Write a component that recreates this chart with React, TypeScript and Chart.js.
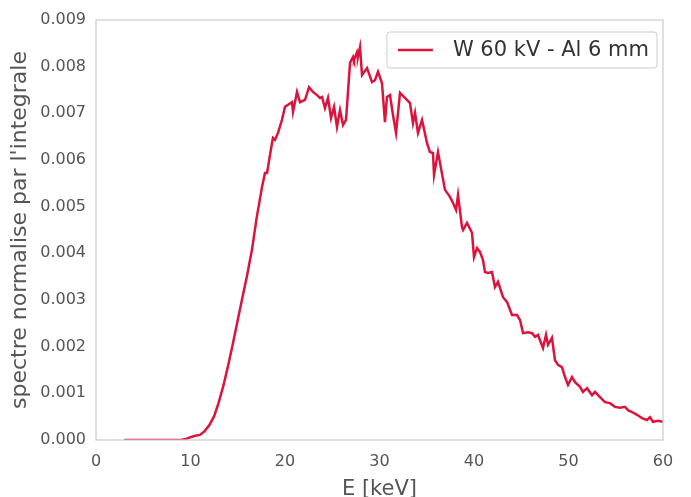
import React, { useEffect, useRef } from "react";
import { Chart, registerables } from "chart.js";

Chart.register(...registerables);

const energies = [
  3, 4, 5, 6, 7, 8, 9, 9.5, 10, 10.5, 11, 11.5, 12, 12.5, 13, 13.5, 14, 14.5, 15, 15.5,
  16, 16.5, 17, 17.57, 17.88, 18.1, 18.62, 18.73, 18.94, 19.26, 19.68, 20.0, 20.74,
  20.85, 21.27, 21.59, 22.12, 22.54, 22.96, 23.39, 23.7, 23.92, 24.23, 24.55, 24.87,
  25.19, 25.5, 25.82, 26.14, 26.46, 26.88, 27.2, 27.3, 27.62, 27.72, 27.94, 28.15,
  28.68, 29.21, 29.52, 29.84, 30.26, 30.58, 30.79, 31.11, 31.43, 31.75, 32.17, 32.7,
  33.23, 33.54, 33.76, 34.07, 34.5, 35.03, 35.34, 35.66, 35.77, 36.19, 36.93, 37.46,
  37.78, 38.1, 38.31, 38.73, 38.84, 39.26, 39.79, 40.0, 40.32, 40.63, 40.95, 41.16,
  41.48, 41.9, 42.22, 42.54, 43.07, 43.49, 44.02, 44.55, 44.87, 45.19, 45.71, 46.14,
  46.46, 46.77, 47.3, 47.62, 47.83, 48.25, 48.57, 48.89, 49.31, 49.63, 49.95, 50.37,
  50.69, 51.22, 51.53, 51.96, 52.49, 52.8, 53.33, 53.86, 54.39, 54.92, 55.45, 55.98,
  56.3, 56.72, 57.25, 57.78, 58.31, 58.62, 58.94, 59.47, 60.0,
];

const spectrum = [
  0, 0, 0, 0, 0, 0, 0, 0.00002, 0.00006, 0.00009, 0.00011, 0.00019, 0.00032, 0.00051,
  0.00081, 0.00118, 0.00161, 0.00208, 0.00257, 0.00306, 0.00354, 0.00407, 0.00476,
  0.00542, 0.00572, 0.00572, 0.00636, 0.00647, 0.00643, 0.00658, 0.00686, 0.00714,
  0.00724, 0.00703, 0.00746, 0.00724, 0.00729, 0.00756, 0.00746, 0.00739, 0.00733,
  0.00735, 0.00711, 0.00733, 0.0069, 0.00714, 0.00671, 0.00707, 0.00675, 0.00686,
  0.00808, 0.00821, 0.00814, 0.00831, 0.00821, 0.00842, 0.00782, 0.00797, 0.00767,
  0.00771, 0.00789, 0.00765, 0.00681, 0.00735, 0.00739, 0.00696, 0.00658, 0.00744,
  0.00733, 0.00722, 0.00679, 0.00701, 0.00658, 0.00686, 0.00636, 0.00617, 0.00615,
  0.00568, 0.00617, 0.00536, 0.00521, 0.00508, 0.00493, 0.00525, 0.00456, 0.0045,
  0.00465, 0.00444, 0.00392, 0.00411, 0.00403, 0.00386, 0.0036, 0.00358, 0.0036,
  0.00328, 0.00339, 0.00306, 0.00296, 0.00268, 0.00268, 0.00257, 0.00229, 0.00231,
  0.00229, 0.00221, 0.00225, 0.00197, 0.00225, 0.00204, 0.00219, 0.00171, 0.00161,
  0.00156, 0.00135, 0.00118, 0.00135, 0.00124, 0.00114, 0.00103, 0.00111, 0.00096,
  0.00103, 0.00092, 0.00081, 0.00079, 0.00071, 0.00069, 0.00071, 0.00064, 0.0006,
  0.00054, 0.00047, 0.00043, 0.00049, 0.00039, 0.00041, 0.00039,
];

const seriesLabel = "W 60 kV - Al 6 mm";
const xTitle = "E [keV]";
const yTitle = "spectre normalise par l'integrale";
const lineColor = "#dc143c";
const FONT = "'DejaVu Sans', sans-serif";

const framePlugin = {
  id: "frameAndLegend",
  afterDraw(chart: any) {
    const { ctx, chartArea } = chart;
    ctx.save();
    ctx.strokeStyle = "#cccccc";
    ctx.lineWidth = 1.25;
    ctx.strokeRect(chartArea.left, chartArea.top, chartArea.right - chartArea.left, chartArea.bottom - chartArea.top);

    // legend box
    const ds = chart.data.datasets[0];
    ctx.font = `21px ${FONT}`;
    const tw = ctx.measureText(ds.label).width;
    const boxRight = chartArea.right - 6;
    const boxTop = chartArea.top + 12;
    const boxH = 36;
    const boxW = 66 + tw + 8;
    const boxLeft = boxRight - boxW;
    ctx.fillStyle = "rgba(255,255,255,0.85)";
    ctx.strokeStyle = "#cccccc";
    ctx.lineWidth = 1;
    ctx.beginPath();
    const r = 3;
    ctx.moveTo(boxLeft + r, boxTop);
    ctx.lineTo(boxRight - r, boxTop);
    ctx.arcTo(boxRight, boxTop, boxRight, boxTop + r, r);
    ctx.lineTo(boxRight, boxTop + boxH - r);
    ctx.arcTo(boxRight, boxTop + boxH, boxRight - r, boxTop + boxH, r);
    ctx.lineTo(boxLeft + r, boxTop + boxH);
    ctx.arcTo(boxLeft, boxTop + boxH, boxLeft, boxTop + boxH - r, r);
    ctx.lineTo(boxLeft, boxTop + r);
    ctx.arcTo(boxLeft, boxTop, boxLeft + r, boxTop, r);
    ctx.closePath();
    ctx.fill();
    ctx.stroke();

    const cy = boxTop + boxH / 2;
    ctx.strokeStyle = ds.borderColor;
    ctx.lineWidth = 2.5;
    ctx.beginPath();
    ctx.moveTo(boxLeft + 11, cy);
    ctx.lineTo(boxLeft + 46, cy);
    ctx.stroke();

    ctx.fillStyle = "#333333";
    ctx.textBaseline = "middle";
    ctx.textAlign = "left";
    ctx.fillText(ds.label, boxLeft + 66, cy + 1);
    ctx.restore();
  },
};

export default function App() {
  const canvasRef = useRef<HTMLCanvasElement | null>(null);

  useEffect(() => {
    const canvas = canvasRef.current;
    if (!canvas) return;
    const points = energies.map((e, i) => ({ x: e, y: spectrum[i] }));
    const chart = new Chart(canvas, {
      type: "scatter",
      data: {
        datasets: [
          {
            label: seriesLabel,
            data: points,
            showLine: true,
            borderColor: lineColor,
            backgroundColor: lineColor,
            borderWidth: 2.5,
            pointRadius: 0,
            tension: 0,
          },
        ],
      },
      options: {
        animation: false,
        responsive: false,
        devicePixelRatio: 1,
        layout: { padding: { left: 0, right: 28, top: 20, bottom: 0 } },
        plugins: {
          legend: { display: false },
          tooltip: { enabled: false },
        },
        scales: {
          x: {
            type: "linear",
            min: 0,
            max: 60,
            grid: { display: false, drawTicks: false },
            border: { display: false },
            ticks: {
              stepSize: 10,
              color: "#555555",
              font: { family: FONT, size: 16 },
              padding: 12,
            },
            title: {
              display: true,
              text: xTitle,
              color: "#555555",
              font: { family: FONT, size: 21 },
              padding: { top: 0, bottom: -5 },
            },
            afterFit(scale: any) {
              scale.height = 57;
            },
          },
          y: {
            type: "linear",
            min: 0,
            max: 0.009,
            grid: { display: false, drawTicks: false },
            border: { display: false },
            ticks: {
              stepSize: 0.001,
              color: "#555555",
              font: { family: FONT, size: 16 },
              padding: 10,
              callback: (v: any) => Number(v).toFixed(3),
            },
            title: {
              display: true,
              text: yTitle,
              color: "#555555",
              font: { family: FONT, size: 22 },
              padding: { top: 7, bottom: 0 },
            },
            afterFit(scale: any) {
              scale.width = 96;
            },
          },
        },
      },
      plugins: [framePlugin],
    });
    return () => chart.destroy();
  }, []);

  return (
    <div style={{ position: "absolute", left: 0, top: 0, width: 691, height: 497, background: "#fff" }}>
      <canvas ref={canvasRef} width={691} height={497} style={{ display: "block" }} />
    </div>
  );
}
